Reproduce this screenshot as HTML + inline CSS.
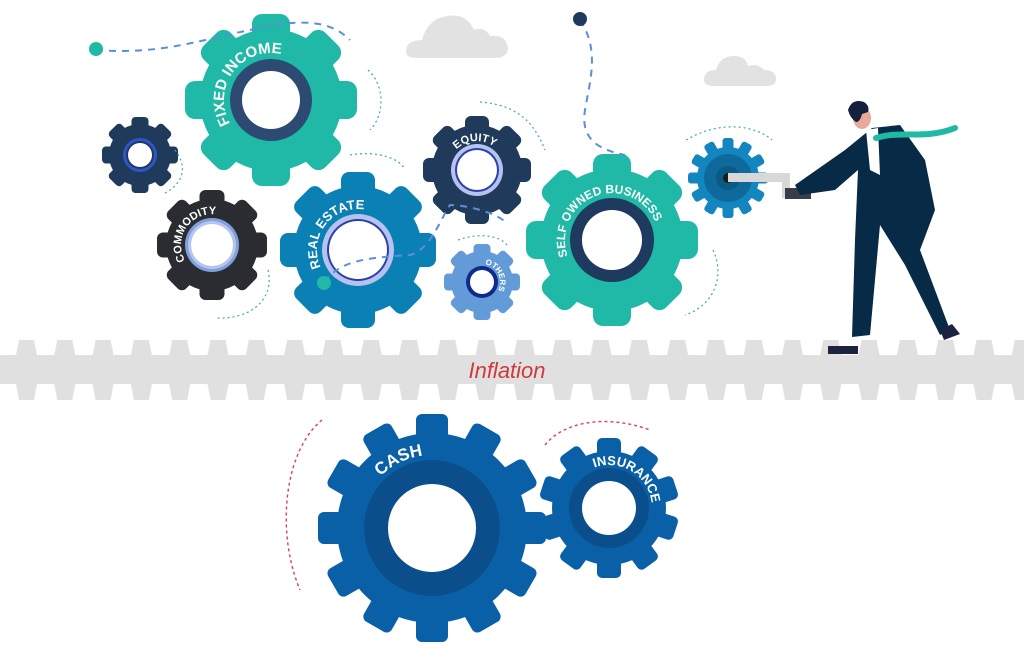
<!DOCTYPE html>
<html><head><meta charset="utf-8">
<style>
html,body{margin:0;padding:0;background:#fff;}
svg{display:block;}
text{font-family:"Liberation Sans",sans-serif;font-weight:bold;fill:#fff;}
</style></head>
<body>
<svg width="1024" height="664" viewBox="0 0 1024 664" xmlns="http://www.w3.org/2000/svg">
<defs>
<pattern id="teeth" x="0" y="340" width="38.3" height="60" patternUnits="userSpaceOnUse">
<path d="M16,15 L19,0 L34,0 L37,15 Z M16,44 L19,60 L34,60 L37,44 Z" fill="#e0e0e0"/>
</pattern>
<path id="a_fi" d="M 230.3,123.5 A 47,47 0 0 1 301.2,64"/>
<path id="a_co" d="M 185.2,260.5 A 31,31 0 0 1 227.5,218.2"/>
<path id="a_re" d="M 320.8,267.3 A 41,41 0 0 1 378.5,214.5"/>
<path id="a_eq" d="M 456.5,149.5 A 29,29 0 0 1 497.5,149.5"/>
<path id="a_ot" d="M 485.1,264.3 A 18,18 0 0 1 497.6,291"/>
<path id="a_sob" d="M 567.8,256.1 A 47,47 0 1 1 656.2,256.1"/>
<path id="a_ca" d="M 380.4,476.4 A 73,73 0 0 1 457,459.4"/>
<path id="a_in" d="M 594.3,467.6 A 43,43 0 0 1 649.4,522.7"/>
<rect id="t86" x="-19" y="-86" width="38" height="28" rx="10"/>
<rect id="t38" x="-8.5" y="-38" width="17" height="16" rx="4"/>
<rect id="t55" x="-12.5" y="-55" width="25" height="19" rx="6"/>
<rect id="t78" x="-17" y="-78" width="34" height="24" rx="8"/>
<rect id="t54" x="-12" y="-54" width="24" height="18" rx="6"/>
<rect id="t40" x="-5.5" y="-40" width="11" height="16" rx="3"/>
<rect id="t114" x="-16" y="-114" width="32" height="28" rx="6"/>
<rect id="t70" x="-12" y="-70" width="24" height="22" rx="5"/>
<g id="r8x86"><use href="#t86"/><use href="#t86" transform="rotate(45)"/><use href="#t86" transform="rotate(90)"/><use href="#t86" transform="rotate(135)"/><use href="#t86" transform="rotate(180)"/><use href="#t86" transform="rotate(225)"/><use href="#t86" transform="rotate(270)"/><use href="#t86" transform="rotate(315)"/></g>
<g id="r8x38"><use href="#t38"/><use href="#t38" transform="rotate(45)"/><use href="#t38" transform="rotate(90)"/><use href="#t38" transform="rotate(135)"/><use href="#t38" transform="rotate(180)"/><use href="#t38" transform="rotate(225)"/><use href="#t38" transform="rotate(270)"/><use href="#t38" transform="rotate(315)"/></g>
<g id="r8x55"><use href="#t55"/><use href="#t55" transform="rotate(45)"/><use href="#t55" transform="rotate(90)"/><use href="#t55" transform="rotate(135)"/><use href="#t55" transform="rotate(180)"/><use href="#t55" transform="rotate(225)"/><use href="#t55" transform="rotate(270)"/><use href="#t55" transform="rotate(315)"/></g>
<g id="r8x78"><use href="#t78"/><use href="#t78" transform="rotate(45)"/><use href="#t78" transform="rotate(90)"/><use href="#t78" transform="rotate(135)"/><use href="#t78" transform="rotate(180)"/><use href="#t78" transform="rotate(225)"/><use href="#t78" transform="rotate(270)"/><use href="#t78" transform="rotate(315)"/></g>
<g id="r8x54"><use href="#t54"/><use href="#t54" transform="rotate(45)"/><use href="#t54" transform="rotate(90)"/><use href="#t54" transform="rotate(135)"/><use href="#t54" transform="rotate(180)"/><use href="#t54" transform="rotate(225)"/><use href="#t54" transform="rotate(270)"/><use href="#t54" transform="rotate(315)"/></g>
<g id="r12x40"><use href="#t40"/><use href="#t40" transform="rotate(30)"/><use href="#t40" transform="rotate(60)"/><use href="#t40" transform="rotate(90)"/><use href="#t40" transform="rotate(120)"/><use href="#t40" transform="rotate(150)"/><use href="#t40" transform="rotate(180)"/><use href="#t40" transform="rotate(210)"/><use href="#t40" transform="rotate(240)"/><use href="#t40" transform="rotate(270)"/><use href="#t40" transform="rotate(300)"/><use href="#t40" transform="rotate(330)"/></g>
<g id="r12x114"><use href="#t114"/><use href="#t114" transform="rotate(30)"/><use href="#t114" transform="rotate(60)"/><use href="#t114" transform="rotate(90)"/><use href="#t114" transform="rotate(120)"/><use href="#t114" transform="rotate(150)"/><use href="#t114" transform="rotate(180)"/><use href="#t114" transform="rotate(210)"/><use href="#t114" transform="rotate(240)"/><use href="#t114" transform="rotate(270)"/><use href="#t114" transform="rotate(300)"/><use href="#t114" transform="rotate(330)"/></g>
<g id="r10x70"><use href="#t70"/><use href="#t70" transform="rotate(36)"/><use href="#t70" transform="rotate(72)"/><use href="#t70" transform="rotate(108)"/><use href="#t70" transform="rotate(144)"/><use href="#t70" transform="rotate(180)"/><use href="#t70" transform="rotate(216)"/><use href="#t70" transform="rotate(252)"/><use href="#t70" transform="rotate(288)"/><use href="#t70" transform="rotate(324)"/></g>
</defs>
<!-- clouds -->
<g fill="#e2e2e2">
<path d="M406,52 q0,-12 16,-12 q6,-22 26,-24 q18,-3 26,14 q10,-4 16,6 q16,-2 18,12 q0,10 -14,10 h-76 q-12,0 -12,-6z"/>
<path d="M704,80 q0,-10 12,-10 q4,-14 18,-14 q12,0 14,10 q10,-3 16,4 q12,0 12,9 q0,7 -10,7 h-52 q-10,0 -10,-6z"/>
</g>
<!-- rack -->
<rect x="0" y="355" width="1024" height="29" fill="#e0e0e0"/>
<rect x="0" y="340" width="1024" height="60" fill="url(#teeth)"/>
<text x="507" y="378" text-anchor="middle" style="font-weight:normal;font-style:italic;font-size:22px;fill:#d0393c">Inflation</text>

<!-- gears -->
<g transform="translate(271,100)" fill="#20b8a6"><use href="#r8x86"/><circle r="71"/><circle r="41" fill="#2c4a72"/><circle r="29" fill="#fff"/></g>
<g transform="translate(140,155)" fill="#1f3a5a"><use href="#r8x38"/><circle r="31"/><circle r="17" fill="#2f55c8"/><circle r="14" fill="#1f3a5a"/><circle r="12" fill="#fff"/></g>
<g transform="translate(212,245)" fill="#2a2c31"><use href="#r8x55"/><circle r="46"/><circle r="27" fill="#7fa0dc"/><circle r="24" fill="#b7c4ee"/><circle r="21" fill="#fff"/></g>
<g transform="translate(358,250)" fill="#0b80b4"><use href="#r8x78"/><circle r="64"/><circle r="36" fill="#b6c2f0"/><circle r="31" fill="#2d3fa8"/><circle r="29" fill="#fff"/></g>
<g transform="translate(477,170)" fill="#1f3a5a"><use href="#r8x54"/><circle r="45"/><circle r="26" fill="#b6c2f0"/><circle r="22" fill="#2d3fa8"/><circle r="20" fill="#fff"/></g>
<g transform="translate(482,282)" fill="#639bd8"><use href="#r8x38"/><circle r="31"/><circle r="16" fill="#0f2a8a"/><circle r="12" fill="#fff"/></g>
<g transform="translate(612,240)" fill="#20b8a6"><use href="#r8x86"/><circle r="71"/><circle r="42" fill="#1e3a5f"/><circle r="30" fill="#fff"/></g>
<g transform="translate(728,178)" fill="#1386c0"><use href="#r12x40"/><circle r="31"/><circle r="24" fill="#0e6a9a"/><circle r="12" fill="#0b5a85"/><circle r="5" fill="#1c1c1c"/></g>
<g transform="translate(432,528)" fill="#0a60a6"><use href="#r12x114"/><circle r="95"/><circle r="68" fill="#0a4f8c"/><circle r="44" fill="#fff"/></g>
<g transform="translate(609,508)" fill="#0a60a6"><use href="#r10x70"/><circle r="57"/><circle r="40" fill="#0a4f8c"/><circle r="27" fill="#fff"/></g>

<!-- dashed lines -->
<g fill="none" stroke="#5b8fd8" stroke-width="2" stroke-dasharray="7,6">
<path d="M96,50 C160,55 200,40 250,30 C300,18 330,20 350,40"/>
<path d="M580,20 C600,50 590,80 585,110 C580,140 600,150 625,155"/>
<path d="M324,282 C340,262 360,258 410,255 C430,250 440,220 450,205 C470,205 500,215 505,222"/>
</g>
<g fill="none" stroke="#3aa9b5" stroke-width="1.2" stroke-dasharray="2,3">
<path d="M368,70 C385,85 385,115 370,130"/>
<path d="M175,150 C190,170 180,185 165,193"/>
<path d="M350,155 C380,150 400,160 404,168"/>
<path d="M480,102 C520,105 535,125 545,150"/>
<path d="M268,270 C275,300 250,320 215,318"/>
<path d="M458,240 C480,232 500,236 507,245"/>
<path d="M686,140 C720,120 755,125 772,140"/>
<path d="M713,250 C725,275 715,305 685,315"/>
</g>
<g fill="none" stroke="#e0404a" stroke-width="1.4" stroke-dasharray="3,3">
<path d="M322,420 C285,450 275,530 300,590"/>
<path d="M545,445 C565,420 610,415 650,430"/>
</g>
<circle cx="96" cy="49" r="7" fill="#1fb9a6"/>
<circle cx="580" cy="19" r="7" fill="#1e3a5f"/>
<circle cx="324" cy="283" r="7" fill="#1fb9a6"/>

<!-- labels -->
<text font-size="15"><textPath href="#a_fi">FIXED INCOME</textPath></text>
<text font-size="11"><textPath href="#a_co">COMMODITY</textPath></text>
<text font-size="13"><textPath href="#a_re">REAL ESTATE</textPath></text>
<text font-size="11"><textPath href="#a_eq">EQUITY</textPath></text>
<text font-size="8"><textPath href="#a_ot">OTHERS</textPath></text>
<text font-size="12"><textPath href="#a_sob">SELF OWNED BUSINESS</textPath></text>
<text font-size="17"><textPath href="#a_ca">CASH</textPath></text>
<text font-size="13"><textPath href="#a_in">INSURANCE</textPath></text>

<!-- person -->
<g>
<rect x="728" y="173" width="62" height="9" fill="#d8d8d8"/>
<rect x="782" y="173" width="8" height="25" fill="#d8d8d8"/>
<rect x="785" y="188" width="26" height="11" fill="#3a3d48"/>
<path d="M872,128 L900,125 L925,160 L935,210 L920,250 L950,330 L940,335 L905,265 L880,225 L870,335 L852,337 L855,240 L858,170 L835,190 L800,195 L795,185 L845,150 Z" fill="#072a47"/>
<path d="M866,130 L878,128 L880,175 L870,170 Z" fill="#fff"/>
<path d="M876,138 C900,130 925,140 955,128" stroke="#1fb9a6" stroke-width="6" fill="none" stroke-linecap="round"/>
<ellipse cx="862" cy="118" rx="9" ry="11" fill="#e8a999"/>
<path d="M848,110 q4,-12 16,-8 q6,4 4,10 l-6,2 q-2,8 -6,8 q-6,-4 -8,-12z" fill="#14213d"/>
<path d="M828,346 h30 v8 h-30z" fill="#1c2340"/>
<path d="M940,330 l12,-6 l8,10 l-16,6z" fill="#1c2340"/>
</g>
</svg>
</body></html>
